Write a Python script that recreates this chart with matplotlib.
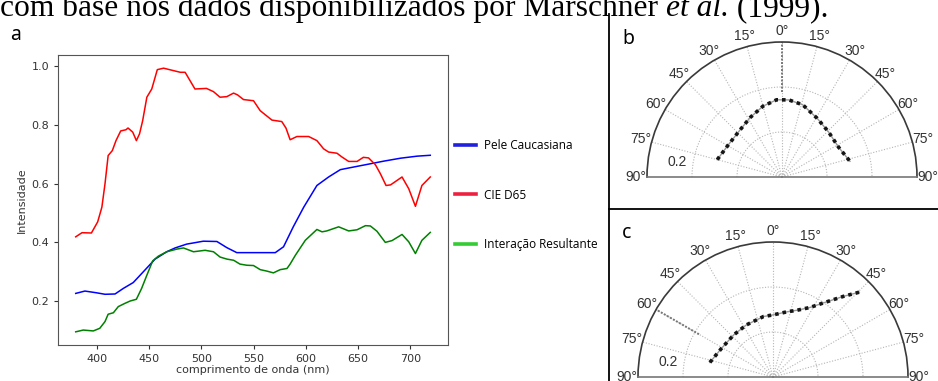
import numpy as np
import matplotlib
matplotlib.use("Agg")
import matplotlib.pyplot as plt
from matplotlib.lines import Line2D
from matplotlib.text import Annotation

# ---------------- data ------------------------------------------
# panel a: spectra
nm_red = [380, 386, 395, 401, 405, 408, 411, 415, 418.5, 423, 428, 430, 434.5, 438, 441, 444, 448,
          452.7, 458, 464, 480, 484.6, 494, 505, 511.7, 518, 524.5, 530.9, 534.7, 540.4, 550, 556.4,
          567.6, 577, 581, 585, 591.5, 602.7, 610.6, 617, 621.8, 629.8, 634.6, 641, 649, 655, 660,
          666.5, 671.3, 676.7, 681, 692, 698.4, 704.8, 711, 719]
cie_d65 = [0.419, 0.433, 0.432, 0.47, 0.52, 0.60, 0.696, 0.713, 0.747, 0.78, 0.784, 0.79, 0.776,
           0.747, 0.77, 0.815, 0.895, 0.923, 0.989, 0.994, 0.98, 0.98, 0.923, 0.925, 0.914, 0.895,
           0.897, 0.909, 0.903, 0.887, 0.883, 0.849, 0.817, 0.812, 0.79, 0.75, 0.761, 0.761, 0.747,
           0.719, 0.708, 0.704, 0.691, 0.676, 0.676, 0.69, 0.688, 0.665, 0.634, 0.594, 0.596, 0.623,
           0.583, 0.523, 0.594, 0.623]

nm_blue = [380, 388.8, 400, 408, 417.6, 425.5, 435, 444.7, 455.9, 467, 475, 486, 502, 515, 524.5,
           534, 556.4, 570.8, 578.7, 588, 598, 610.6, 621.8, 633, 645.8, 661.7, 674.5, 690.5, 706.4, 719]
pele = [0.226, 0.234, 0.228, 0.223, 0.224, 0.243, 0.263, 0.30, 0.343, 0.368, 0.381, 0.394, 0.404,
        0.403, 0.382, 0.365, 0.365, 0.365, 0.385, 0.453, 0.52, 0.594, 0.623, 0.648, 0.657, 0.668,
        0.677, 0.687, 0.694, 0.697]

nm_green = [380, 387.2, 396.8, 403, 408, 411, 416, 420.7, 427, 432, 438, 443, 448, 453.6, 459, 467,
            476.6, 483, 492.6, 503.7, 511.7, 518, 524.5, 531, 537, 543.6, 550, 556.4, 562.8, 569,
            575.5, 582, 585, 590, 599.5, 610.6, 615.5, 620, 631.4, 641, 649, 657, 661.7, 668, 676,
            682.4, 692, 698.4, 704.8, 711, 719]
interacao = [0.095, 0.101, 0.098, 0.107, 0.13, 0.155, 0.16, 0.181, 0.192, 0.20, 0.206, 0.243, 0.288,
             0.337, 0.353, 0.368, 0.377, 0.381, 0.368, 0.373, 0.368, 0.35, 0.343, 0.339, 0.326,
             0.322, 0.321, 0.307, 0.302, 0.296, 0.307, 0.311, 0.326, 0.356, 0.407, 0.444, 0.436,
             0.439, 0.453, 0.439, 0.443, 0.457, 0.456, 0.438, 0.40, 0.406, 0.427, 0.402, 0.362,
             0.407, 0.434]

legend_labels = ["Pele Caucasiana", "CIE D65", "Interação Resultante"]

# panels b / c: angular distributions (deg from normal, radius)
theta_b = [-75, -59, -42, -28, -15, -4, 5, 16, 31, 46, 62, 77]
r_b = [0.149, 0.139, 0.140, 0.150, 0.163, 0.172, 0.172, 0.167, 0.152, 0.144, 0.142, 0.155]
incid_b = 0

theta_c = [-77, -61, -43, -27, -9, 0, 12, 20, 28, 34, 41, 45.5]
r_c = [0.144, 0.131, 0.128, 0.130, 0.136, 0.138, 0.148, 0.158, 0.175, 0.198, 0.237, 0.269]
incid_c = -60

theta_ticks = list(range(-90, 91, 15))
r_max = 0.3
r_rings = [0.1, 0.2]

W, H = 938, 381
fig = plt.figure(figsize=(W / 100, H / 100), dpi=100)

# ---------------- top caption (cut off by the crop) -----------------
serif = "Liberation Serif"
cap_size = 22.7
t1 = fig.text(0.0, 1 - 16 / H, "com base nos dados disponibilizados por Marschner ",
              fontsize=cap_size, family=serif, va="baseline", ha="left")
a2 = fig.add_artist(Annotation("et al.", xy=(1, 0), xycoords=t1, va="bottom", ha="left",
                               fontsize=cap_size, family=serif, style="italic"))
fig.add_artist(Annotation(" (1999).", xy=(1, 0), xycoords=a2, va="bottom", ha="left",
                          fontsize=cap_size, family=serif))

# separators
fig.add_artist(Line2D([609 / W, 609 / W], [0, 1 - 14 / H], transform=fig.transFigure, color="k", lw=1.3))
fig.add_artist(Line2D([609 / W, 1], [1 - 209 / H, 1 - 209 / H], transform=fig.transFigure, color="k", lw=1.3))

# ---------------- panel a -----------------
ax = fig.add_axes([58 / W, 36 / H, 390 / W, 290 / H])
ax.plot(nm_blue, pele, color="blue", lw=1.1)
ax.plot(nm_red, cie_d65, color="red", lw=1.1)
ax.plot(nm_green, interacao, color="green", lw=1.1)
ax.set_xticks([400, 450, 500, 550, 600, 650, 700])
ax.set_yticks([0.2, 0.4, 0.6, 0.8, 1.0])
ax.tick_params(labelsize=8, colors="#333333", length=3)
for s in ax.spines.values():
    s.set_color("#555555")
ax.set_xlabel("comprimento de onda (nm)", fontsize=8, color="#333333", labelpad=1)
ax.set_ylabel("Intensidade", fontsize=8, color="#333333", labelpad=3)

handles = [Line2D([], [], color=c, lw=2.6) for c in ["#2020dd", "#ee2040", "#33cc33"]]
fig.legend(handles, legend_labels, loc="center left", bbox_to_anchor=(455 / W, 1 - 195 / H),
           frameon=False, prop={"family": "Open Sans", "size": 8.5}, borderpad=0,
           borderaxespad=0, handlelength=1.8, handletextpad=0.65, labelspacing=3.1)

fig.text(10 / W, 1 - 40 / H, "a", fontsize=14, family="Noto Sans", va="baseline")
fig.text(622 / W, 1 - 44 / H, "b", fontsize=14, family="Noto Sans", va="baseline")
fig.text(622 / W, 1 - 238 / H, "c", fontsize=14, family="Noto Sans", va="baseline")


# ---------------- panels b, c -----------------
def half_polar(cx, cy, theta, r, incid):
    # matplotlib keeps a half wedge centred in a square box, so the box is 2R x 2R
    R = 135
    pax = fig.add_axes([(cx - R) / W, (H - cy - R / 2) / H, 2 * R / W, 2 * R / H],
                       projection="polar")
    pax.set_theta_zero_location("N")
    pax.set_theta_direction(-1)
    pax.set_thetamin(-90)
    pax.set_thetamax(90)
    pax.set_ylim(0, r_max)
    pax.set_rgrids(r_rings, labels=[])
    pax.set_thetagrids(theta_ticks, labels=[])
    pax.grid(True, color="#b5b5b5", linestyle=(0, (1, 1.5)), lw=0.8)
    pax.tick_params(axis="x", direction="in", length=4, width=1, colors="#444444", pad=0)
    pax.spines["polar"].set_color("#3a3a3a")
    pax.spines["polar"].set_linewidth(1.2)
    for k in ("start", "end"):
        pax.spines[k].set_color("#777777")
        pax.spines[k].set_linewidth(1.2)
    for a in theta_ticks:
        pax.text(np.deg2rad(a), r_max * 1.08, f"{abs(a)}°", ha="center", va="center",
                 fontsize=10, family="Liberation Sans", color="#333333", clip_on=False)
    pax.text(np.deg2rad(-82), 0.235, "0.2", ha="center", va="center",
             fontsize=10, family="Liberation Sans", color="#333333")
    # incidence direction
    pax.plot(np.deg2rad([incid, incid]), [0.19, r_max], color="#777777", lw=1.4,
             linestyle=(0, (1, 0.8)))
    th = np.deg2rad(theta)
    pax.plot(th, r, color="#999999", lw=1.0)
    pax.plot(th, r, color="#151515", lw=2.6, linestyle=(0, (1, 1.1)))
    return pax


half_polar(782, 177, theta_b, r_b, incid_b)
half_polar(773, 377, theta_c, r_c, incid_c)

fig.savefig("out.png", dpi=100)
